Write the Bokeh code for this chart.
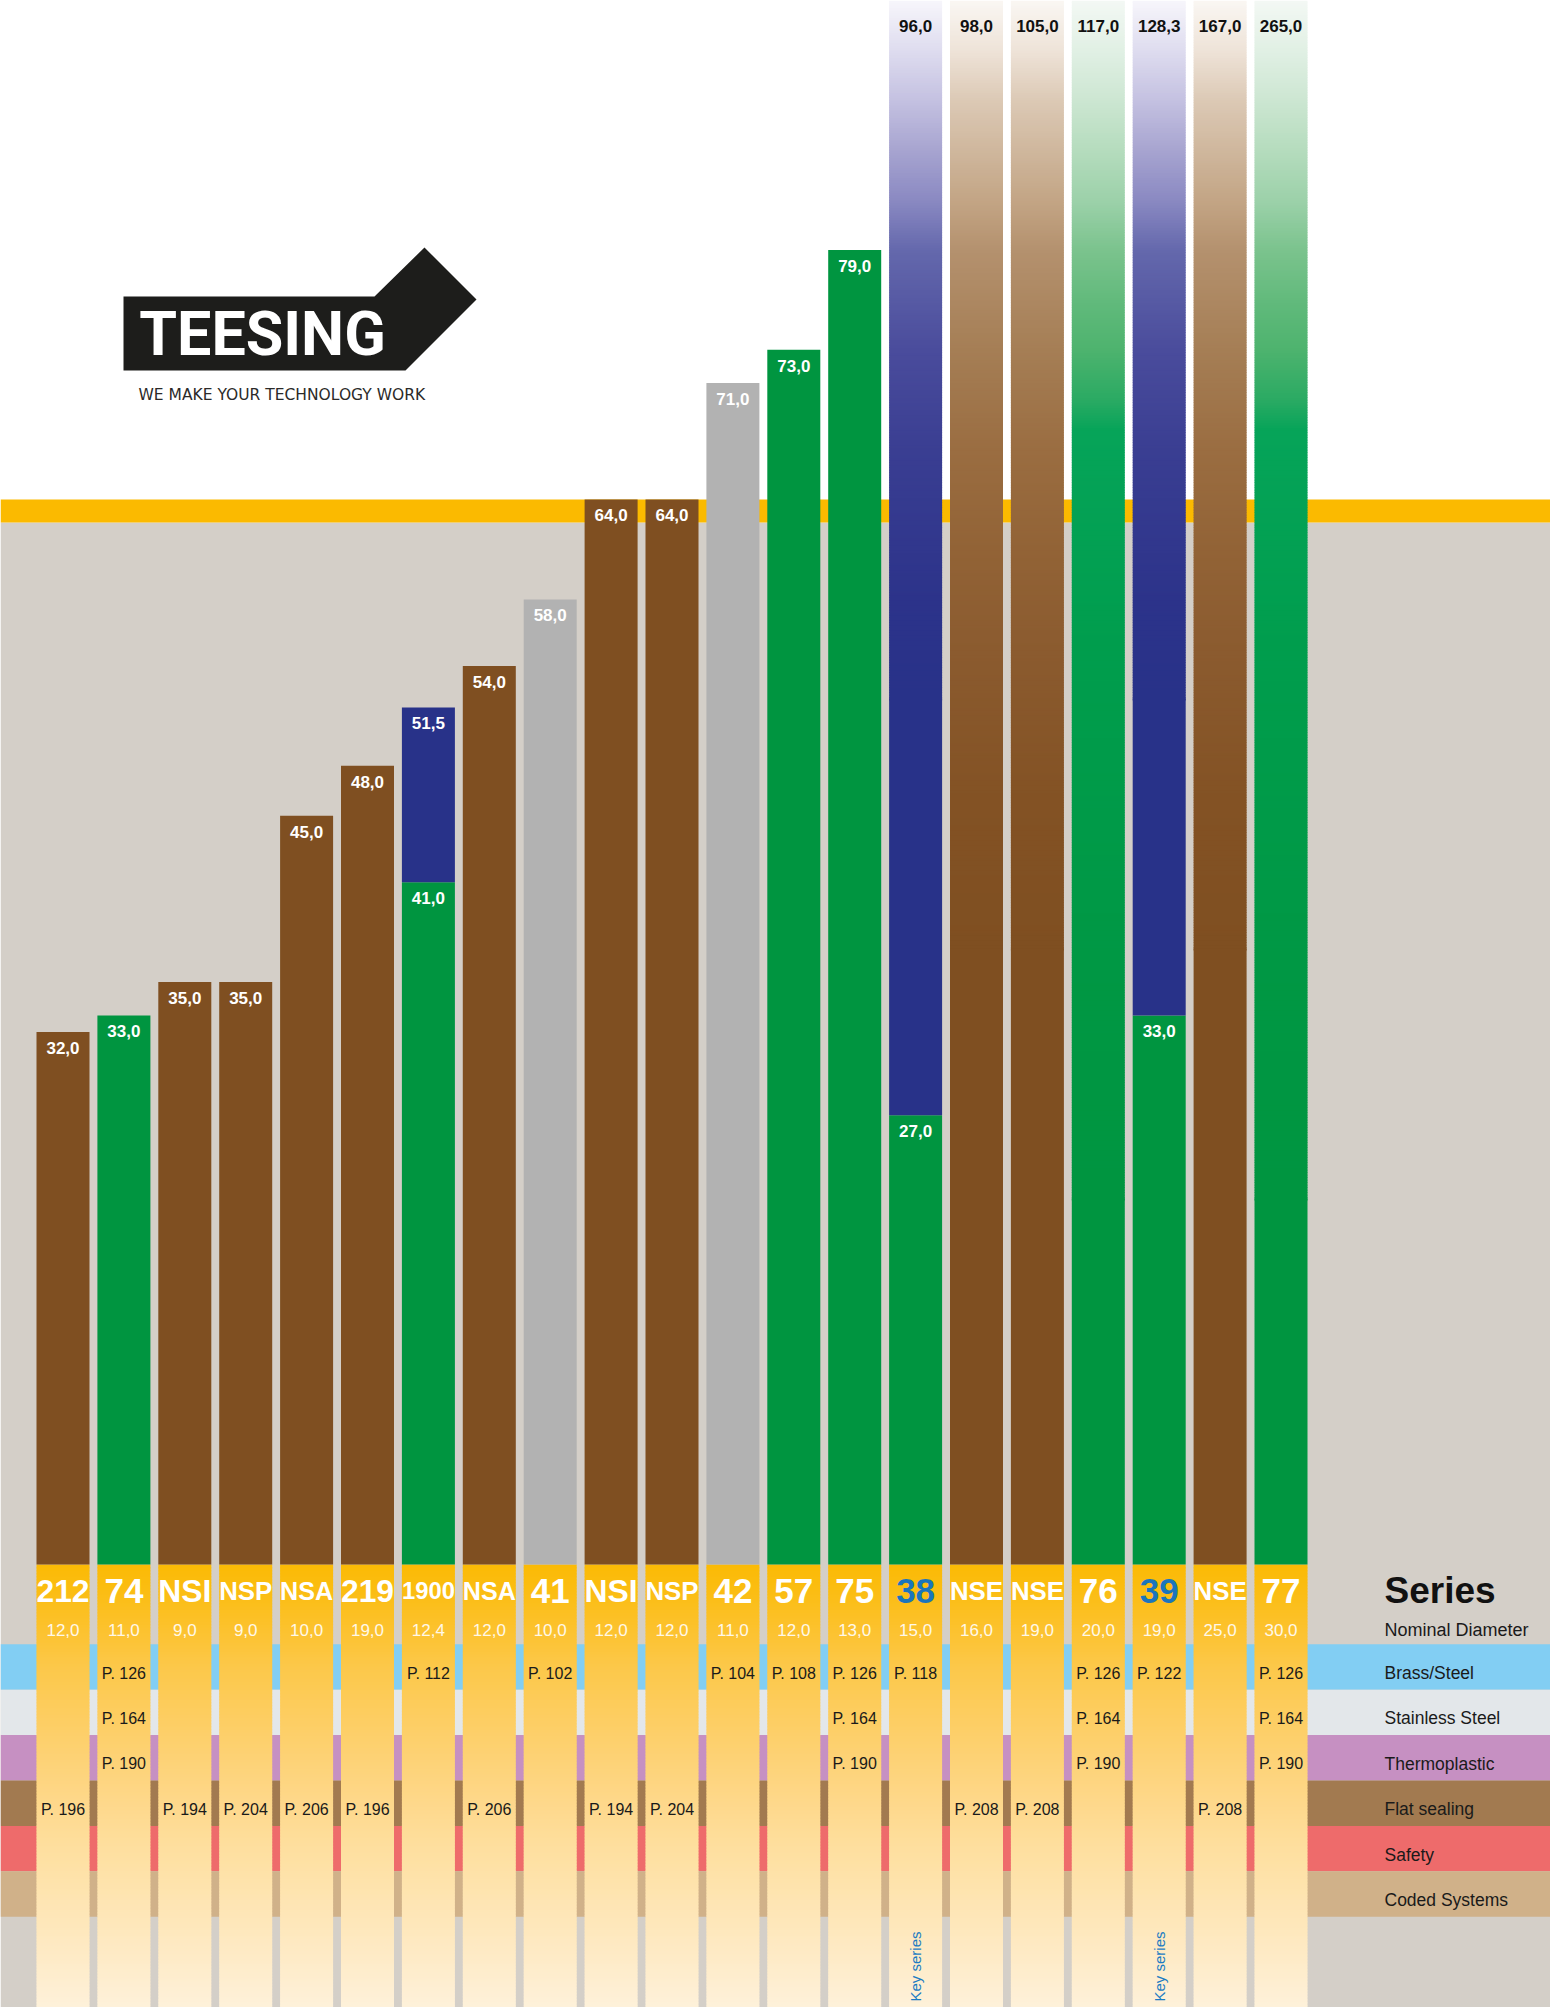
import numpy as np
from bokeh.plotting import figure
from bokeh.models import Range1d, ColumnDataSource
from bokeh.core.properties import value, field
from bokeh.embed import file_html
from bokeh.resources import INLINE

# ---------------- data ----------------
series = ["212", "74", "NSI", "NSP", "NSA", "219", "1900", "NSA", "41", "NSI", "NSP",
          "42", "57", "75", "38", "NSE", "NSE", "76", "39", "NSE", "77"]
nominal_diameter = [12.0, 11.0, 9.0, 9.0, 10.0, 19.0, 12.4, 12.0, 10.0, 12.0, 12.0,
                    11.0, 12.0, 13.0, 15.0, 16.0, 19.0, 20.0, 19.0, 25.0, 30.0]
base_value = [32.0, 33.0, 35.0, 35.0, 45.0, 48.0, 41.0, 54.0, 58.0, 64.0, 64.0,
              71.0, 73.0, 79.0, 27.0, 98.0, 105.0, 117.0, 33.0, 167.0, 265.0]
base_material = ["brown", "green", "brown", "brown", "brown", "brown", "green", "brown", "grey", "brown", "brown",
                 "grey", "green", "green", "green", "brown", "brown", "green", "green", "brown", "green"]
upper_value = [None, None, None, None, None, None, 51.5, None, None, None, None,
               None, None, None, 96.0, None, None, None, 128.3, None, None]
upper_material = ["blue"] * 21
key_series = ["38", "39"]

row_names = ["Brass/Steel", "Stainless Steel", "Thermoplastic", "Flat sealing", "Safety", "Coded Systems"]
pages_brass = [None, 126, None, None, None, None, 112, None, 102, None, None,
               104, 108, 126, 118, None, None, 126, 122, None, 126]
pages_stainless = [None, 164, None, None, None, None, None, None, None, None, None,
                   None, None, 164, None, None, None, 164, None, None, 164]
pages_thermo = [None, 190, None, None, None, None, None, None, None, None, None,
                None, None, 190, None, None, None, 190, None, None, 190]
pages_flat = [196, None, 194, 204, 206, 196, None, 206, None, 194, 204,
              None, None, None, None, 208, 208, None, None, 208, None]
pages_safety = [None] * 21
pages_coded = [None] * 21
page_rows = [pages_brass, pages_stainless, pages_thermo, pages_flat, pages_safety, pages_coded]

# ---------------- layout / style ----------------
REF_W, REF_H = 1550.0, 2007.0
W, H = 1550, 2007
ZERO_Y = 1564.0
PX_PER_UNIT = 16.64
BAR0_X = 62.5
PITCH = 60.9
BAR_W = 53.0 / PITCH
ROW0_Y = 1666.5
ROW_H = 45.4
ROW_TEXT_DY = 6.0 / ROW_H


def ux(px):
    return (px - BAR0_X) / PITCH


def uy(py):
    return (ZERO_Y - py) / PX_PER_UNIT


def ur(py):
    return (py - ROW0_Y) / ROW_H


TOP = uy(0)

COLORS = {"brown": "#7F4F21", "green": "#009540", "grey": "#B2B2B2", "blue": "#283289"}
BG_GREY = "#D4CFC8"
YELLOW = "#FBBA00"
BAND_COLORS = ["#82CEF3", "#E3E7EA", "#C690C2", "#A27A50", "#EE6B6B", "#D0B189"]
FADE = {
    "brown": [(0, "#FAF7F3"), (50, "#EEE3D8"), (100, "#DCC9B5"), (150, "#CFB79D"), (200, "#C3A585"),
              (250, "#B4916E"), (350, "#A57E55"), (450, "#9A6D41"), (550, "#926336"), (650, "#8B5B2F"),
              (800, "#835224"), (950, "#7F4F21")],
    "green": [(0, "#F3F8F4"), (50, "#E1F0E4"), (100, "#CCE6D2"), (150, "#B5DCBD"), (200, "#9CD1AA"),
              (250, "#7BC38D"), (300, "#62BA7C"), (350, "#4DB36E"), (400, "#2AAA63"), (430, "#06A459"),
              (650, "#009D4D"), (1000, "#009743"), (1200, "#009540")],
    "blue": [(0, "#F7F6FB"), (50, "#DEDCEF"), (100, "#C4C1E1"), (150, "#A7A4D0"), (200, "#8A89C2"),
             (250, "#6468AC"), (350, "#4A4C9C"), (450, "#3A3E92"), (600, "#2C338A"), (700, "#283289")],
}
COLUMN_STOPS = [(1564, "#FBBA05"), (1590, "#FBBD12"), (1629, "#FCC22E"), (1667, "#FCC84A"),
                (1712, "#FDCD5F"), (1757, "#FDD275"), (1803, "#FED88B"), (1848, "#FEDF9F"),
                (1894, "#FEE4B0"), (1950, "#FEEAC4"), (2007, "#FEF1DA")]

FONT = "Liberation Sans"
BOLD_W = {"N": .722, "S": .667, "P": .667, "A": .722, "E": .667, "I": .278}


def h2rgb(h):
    return np.array([int(h[i:i + 2], 16) for i in (1, 3, 5)], dtype=float)


def interp(stops, y):
    ys = [s[0] for s in stops]
    if y <= ys[0]:
        return stops[0][1]
    if y >= ys[-1]:
        return stops[-1][1]
    for (y0, c0), (y1, c1) in zip(stops[:-1], stops[1:]):
        if y0 <= y <= y1:
            t = (y - y0) / (y1 - y0)
            c = h2rgb(c0) * (1 - t) + h2rgb(c1) * t
            return "#%02X%02X%02X" % tuple(int(round(v)) for v in c)
    return stops[-1][1]


def fmt(v):
    return f"{v:.1f}".replace(".", ",")


p = figure(width=W, height=H, output_backend="svg", toolbar_location=None,
           x_range=Range1d(ux(0), ux(REF_W)), y_range=Range1d(uy(REF_H), uy(0)),
           x_axis_location=None, y_axis_location=None, min_border=0)
p.extra_y_ranges = {"rows": Range1d(start=ur(REF_H), end=ur(0))}
p.outline_line_color = None
p.background_fill_color = "white"
p.border_fill_color = "white"
p.grid.visible = False

# background: grey lower part and yellow reference band
p.quad(left=[ux(0)], right=[ux(REF_W)], bottom=[uy(REF_H)], top=[uy(522)], fill_color=BG_GREY, line_color=None)
p.quad(left=[ux(0)], right=[ux(REF_W)], bottom=[uy(522)], top=[uy(499)], fill_color=YELLOW, line_color=None)

# table bands (full width)
nrow = len(row_names)
p.quad(left=[ux(0)] * nrow, right=[ux(REF_W)] * nrow,
       bottom=[k + 0.5 for k in range(nrow)], top=[k - 0.5 for k in range(nrow)],
       fill_color=BAND_COLORS, line_color=None, y_range_name="rows")

# columns under the bars (gradient)
n = len(series)
cl, cr, cb, ct, cc = [], [], [], [], []
step = 3.0
py = ZERO_Y
while py < REF_H:
    col = interp(COLUMN_STOPS, py + step / 2)
    for i in range(n):
        cl.append(i - BAR_W / 2)
        cr.append(i + BAR_W / 2)
        ct.append(ur(py))
        cb.append(ur(min(py + step + 0.7, REF_H)))
        cc.append(col)
    py += step
p.quad(left=cl, right=cr, bottom=cb, top=ct, fill_color=cc, line_color=None, y_range_name="rows")

# bars
sl, sr, sb, st, sc = [], [], [], [], []
gl, gr, gb, gt, gc = [], [], [], [], []


def add_segment(i, lo, hi, mat):
    if hi <= TOP:
        sl.append(i - BAR_W / 2); sr.append(i + BAR_W / 2); sb.append(lo); st.append(hi)
        sc.append(COLORS[mat])
        return
    stops = FADE[mat]
    v_solid = uy(stops[-1][0])
    if lo < v_solid:
        sl.append(i - BAR_W / 2); sr.append(i + BAR_W / 2); sb.append(lo)
        st.append(v_solid + 2.0 / PX_PER_UNIT)
        sc.append(COLORS[mat])
    pyy = ZERO_Y - max(lo, v_solid) * PX_PER_UNIT
    while pyy > 0:
        y_top = max(pyy - 2.5, 0)
        gl.append(i - BAR_W / 2); gr.append(i + BAR_W / 2)
        gb.append(uy(pyy)); gt.append(uy(max(y_top - 0.8, 0)))
        gc.append(interp(stops, (pyy + y_top) / 2))
        pyy = y_top


lab_x, lab_y, lab_t, lab_c = [], [], [], []
for i in range(n):
    add_segment(i, 0.0, base_value[i], base_material[i])
    segs = [base_value[i]]
    if upper_value[i] is not None:
        add_segment(i, base_value[i], upper_value[i], upper_material[i])
        segs.append(upper_value[i])
    for v in segs:
        lab_x.append(i)
        lab_t.append(fmt(v))
        if v <= TOP:
            lab_y.append(v - 15.8 / PX_PER_UNIT)
            lab_c.append("#FFFFFF")
        else:
            lab_y.append(uy(25))
            lab_c.append("#111111")

p.quad(left=gl, right=gr, bottom=gb, top=gt, fill_color=gc, line_color=None)
p.quad(left=sl, right=sr, bottom=sb, top=st, fill_color=sc, line_color=None)

p.text(x=lab_x, y=lab_y, text=lab_t, text_color=lab_c, text_font=value(FONT), text_font_style="bold",
       text_font_size="17px", text_align="center", text_baseline="middle")

# series labels
sizes = []
for s in series:
    em = sum(BOLD_W.get(ch, .556) for ch in s)
    sizes.append("%.1fpx" % min(35.0, 53.0 / em))
ser_src = ColumnDataSource(dict(x=list(range(n)), y=[ur(1590)] * n, t=series,
                                c=["#1B75BC" if s in key_series else "#FFFFFF" for s in series], fs=sizes))
p.text(x="x", y="y", text="t", text_color="c", text_font_size=field("fs"), source=ser_src,
       text_font=value(FONT), text_font_style="bold", text_align="center", text_baseline="middle",
       y_range_name="rows")

# nominal diameters
p.text(x=list(range(n)), y=[ur(1629)] * n, text=[fmt(v) for v in nominal_diameter],
       text_color="#FFF8E8", text_font=value(FONT), text_font_size="17px", text_align="center",
       text_baseline="middle", y_range_name="rows")

# page references
px_, py_, pt_ = [], [], []
for k, pr in enumerate(page_rows):
    for i, pg in enumerate(pr):
        if pg is not None:
            px_.append(i); py_.append(k + ROW_TEXT_DY); pt_.append(f"P. {pg}")
p.text(x=px_, y=py_, text=pt_, text_color="#1A1A1A", text_font=value(FONT), text_font_size="16px",
       text_align="center", text_baseline="middle", y_range_name="rows")

# key series (vertical)
kx = [i for i, s in enumerate(series) if s in key_series]
p.text(x=kx, y=[ur(1966)] * len(kx), text=["Key series"] * len(kx), angle=np.pi / 2,
       text_color="#1C7CC3", text_font=value(FONT), text_font_size="15px", text_align="center",
       text_baseline="middle", y_range_name="rows")

# legend column
lx = ux(1384)
p.text(x=[lx], y=[ur(1590)], text=["Series"], text_color="#111111", text_font=value(FONT),
       text_font_style="bold", text_font_size="37px", text_align="left", text_baseline="middle",
       y_range_name="rows")
p.text(x=[lx], y=[ur(1629)], text=["Nominal Diameter"], text_color="#1A1A1A", text_font=value(FONT),
       text_font_size="18px", text_align="left", text_baseline="middle", y_range_name="rows")
p.text(x=[lx] * nrow, y=[k + ROW_TEXT_DY for k in range(nrow)], text=row_names, text_color="#1A1A1A",
       text_font=value(FONT), text_font_size="17.5px", text_align="left", text_baseline="middle",
       y_range_name="rows")

# logo
logo_px = [(123, 296), (374, 296), (424, 247), (476, 299), (405, 370), (123, 370)]
p.patch(x=[ux(a) for a, b in logo_px], y=[uy(b) for a, b in logo_px], fill_color="#1D1D1B", line_color=None)
p.text(x=[ux(262)], y=[uy(333)], text=["TEESING"], text_color="white", text_font=value("Roboto"),
       text_font_style="bold", text_font_size="61px", text_align="center", text_baseline="middle")
p.text(x=[ux(138)], y=[uy(394)], text=["WE MAKE YOUR TECHNOLOGY WORK"], text_color="#2B2A29",
       text_font=value("DejaVu Sans"), text_font_size="15.5px", text_align="left", text_baseline="middle")

open("out.html", "w").write(file_html(p, INLINE))
